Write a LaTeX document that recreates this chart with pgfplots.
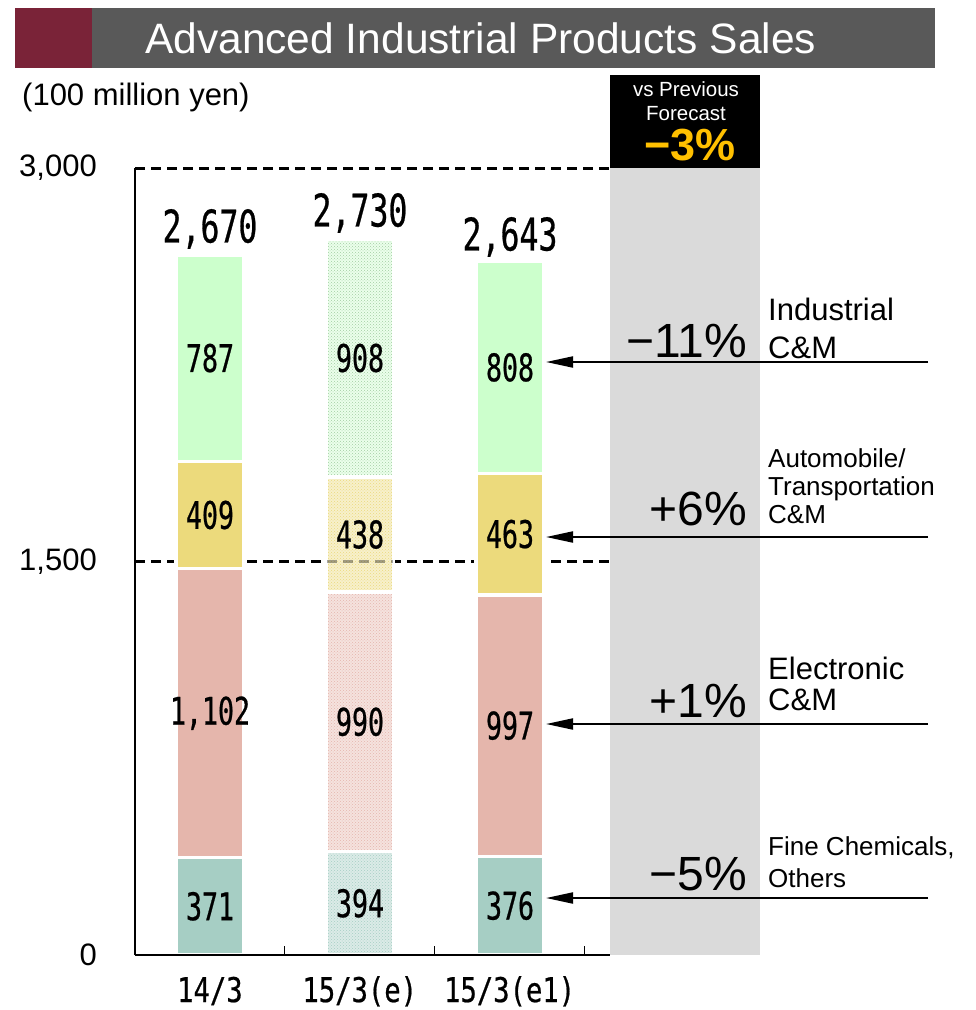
\documentclass[border=0pt]{standalone}
\usepackage{pgfplots}
\pgfplotsset{compat=1.18}
\usepackage{fontspec}
\setmainfont{Liberation Sans}
\newfontfamily\monofont[FakeStretch=0.7,FakeBold=0.6]{DejaVu Sans Mono}
\newfontfamily\catfont[FakeStretch=0.8,FakeBold=0.6]{DejaVu Sans Mono}
\usetikzlibrary{patterns,arrows.meta}
\definecolor{cGreen}{RGB}{204,255,204}
\definecolor{cYellow}{RGB}{236,218,124}
\definecolor{cPink}{RGB}{229,182,172}
\definecolor{cTeal}{RGB}{166,206,196}
\definecolor{titlered}{RGB}{122,35,56}
\definecolor{titlegray}{RGB}{89,89,89}
\definecolor{bandgray}{RGB}{218,218,218}
\definecolor{gold}{RGB}{255,192,0}
\newcommand{\fs}[1]{\fontsize{#1}{#1}\selectfont}
\begin{document}
\begin{tikzpicture}[x=1pt,y=-1pt]
\path[use as bounding box] (0,0) rectangle (976,1010);
% title
\fill[titlered] (15,8) rectangle (92,68);
\fill[titlegray] (92,8) rectangle (935,68);
\node[anchor=west, inner sep=0pt, text=white, font=\fs{42.5}] at (145,38) {Advanced Industrial Products Sales};
\node[anchor=base west, inner sep=0pt, font=\fs{31}] at (22,105) {(100 million yen)};
% right band
\fill[bandgray] (610,168) rectangle (760,955);
\fill[black] (610,75) rectangle (760,168);
\node[anchor=base, inner sep=0pt, text=white, font=\fs{20.5}] at (686,96) {vs Previous};
\node[anchor=base, inner sep=0pt, text=white, font=\fs{20.5}] at (686,120) {Forecast};
\node[anchor=base, inner sep=0pt, text=gold, font=\bfseries\fs{45}] at (690,160) {−3\%};
% reference dashed lines (behind bars)
\draw[line width=3pt, dash pattern=on 10pt off 6pt] (135,168) -- (610,168);
\draw[line width=3pt, dash pattern=on 10pt off 6pt] (135,561.5) -- (610,561.5);

\begin{axis}[
  at={(135pt,-955pt)}, anchor=south west,
  scale only axis, width=475pt, height=787pt,
  xmin=-0.5, xmax=2.67, ymin=0, ymax=3000,
  clip=false, axis on top,
  ybar stacked, bar width=67.5pt,
  axis x line*=bottom, axis y line*=left,
  axis line style={line width=1.5pt, black},
  xtick={0,1,2}, xticklabels={14/3,15/3(e),15/3(e1)},
  minor xtick={0.5,1.5,2.5},
  major tick length=0pt, minor tick length=9pt, tick align=inside,
  tick style={line width=1pt, black},
  ytick={0,1500,3000}, yticklabels={0,{1,500},{3,000}},
  xticklabel style={font=\catfont\fs{34}, anchor=base, inner sep=0pt, yshift=-47pt},
  yticklabel style={font=\fs{31}, anchor=east, inner sep=0pt, xshift=-38pt},
]
% Fine Chemicals, Others
\addplot[fill=cTeal, draw=white, line width=3.5pt] coordinates {(0,371) (1,0) (2,376)};
\addplot[fill=cTeal!40!white, draw=white, line width=3.5pt, postaction={pattern=crosshatch dots, pattern color=cTeal}] coordinates {(0,0) (1,394) (2,0)};
% Electronic C&M
\addplot[fill=cPink, draw=white, line width=3.5pt] coordinates {(0,1102) (1,0) (2,997)};
\addplot[fill=cPink!40!white, draw=white, line width=3.5pt, postaction={pattern=crosshatch dots, pattern color=cPink}] coordinates {(0,0) (1,990) (2,0)};
% Automobile/Transportation C&M
\addplot[fill=cYellow, draw=white, line width=3.5pt] coordinates {(0,409) (1,0) (2,463)};
\addplot[fill=cYellow!40!white, draw=white, line width=3.5pt, postaction={pattern=crosshatch dots, pattern color=cYellow}] coordinates {(0,0) (1,438) (2,0)};
% Industrial C&M
\addplot[fill=cGreen, draw=white, line width=3.5pt] coordinates {(0,787) (1,0) (2,808)};
\addplot[fill=cGreen!40!white, draw=white, line width=3.5pt, postaction={pattern=crosshatch dots, pattern color=cGreen!80!black}] coordinates {(0,0) (1,908) (2,0)};
\end{axis}

% faint dashed line through the patterned bar
\draw[line width=3pt, dash pattern=on 10pt off 6pt, opacity=0.35] (327,561.5) -- (393,561.5);

% segment labels (centred on each segment)
\begin{scope}[every node/.style={font=\monofont\fs{38}, inner sep=0pt}]
\node at (210,906.3) {371};
\node at (210,713.2) {1,102};
\node at (210,515.0) {409};
\node at (210,358.1) {787};
\node at (360,903.3) {394};
\node at (360,721.8) {990};
\node at (360,534.5) {438};
\node at (360,358.0) {908};
\node at (510,905.7) {376};
\node at (510,725.6) {997};
\node at (510,534.1) {463};
\node at (510,367.4) {808};
\end{scope}
% totals
\begin{scope}[every node/.style={font=\monofont\fs{45}, inner sep=0pt, anchor=south}]
\node at (210,249) {2,670};
\node at (360,233) {2,730};
\node at (510,257) {2,643};
\end{scope}

% arrows
\draw[line width=2pt, -{Triangle[length=27pt,width=11pt]}] (928,362) -- (546,362);
\draw[line width=2pt, -{Triangle[length=27pt,width=11pt]}] (928,537) -- (546,537);
\draw[line width=2pt, -{Triangle[length=27pt,width=11pt]}] (928,724) -- (546,724);
\draw[line width=2pt, -{Triangle[length=27pt,width=11pt]}] (928,898) -- (546,898);

% percent changes
\begin{scope}[every node/.style={anchor=base east, inner sep=0pt, font=\fs{48}}]
\node at (747,357) {−11\%};
\node at (747,525) {+6\%};
\node at (747,717) {+1\%};
\node at (747,890) {−5\%};
\end{scope}

% segment names
\begin{scope}[every node/.style={anchor=base west, inner sep=0pt}]
\node[font=\fs{31}] at (768,320) {Industrial};
\node[font=\fs{31}] at (768,358) {C\&M};
\node[font=\fs{26}] at (768,467) {Automobile/};
\node[font=\fs{26}] at (768,495) {Transportation};
\node[font=\fs{26}] at (768,523) {C\&M};
\node[font=\fs{31}] at (768,679) {Electronic};
\node[font=\fs{31}] at (768,710) {C\&M};
\node[font=\fs{26}] at (768,855) {Fine Chemicals,};
\node[font=\fs{26}] at (768,887) {Others};
\end{scope}
\end{tikzpicture}
\end{document}
